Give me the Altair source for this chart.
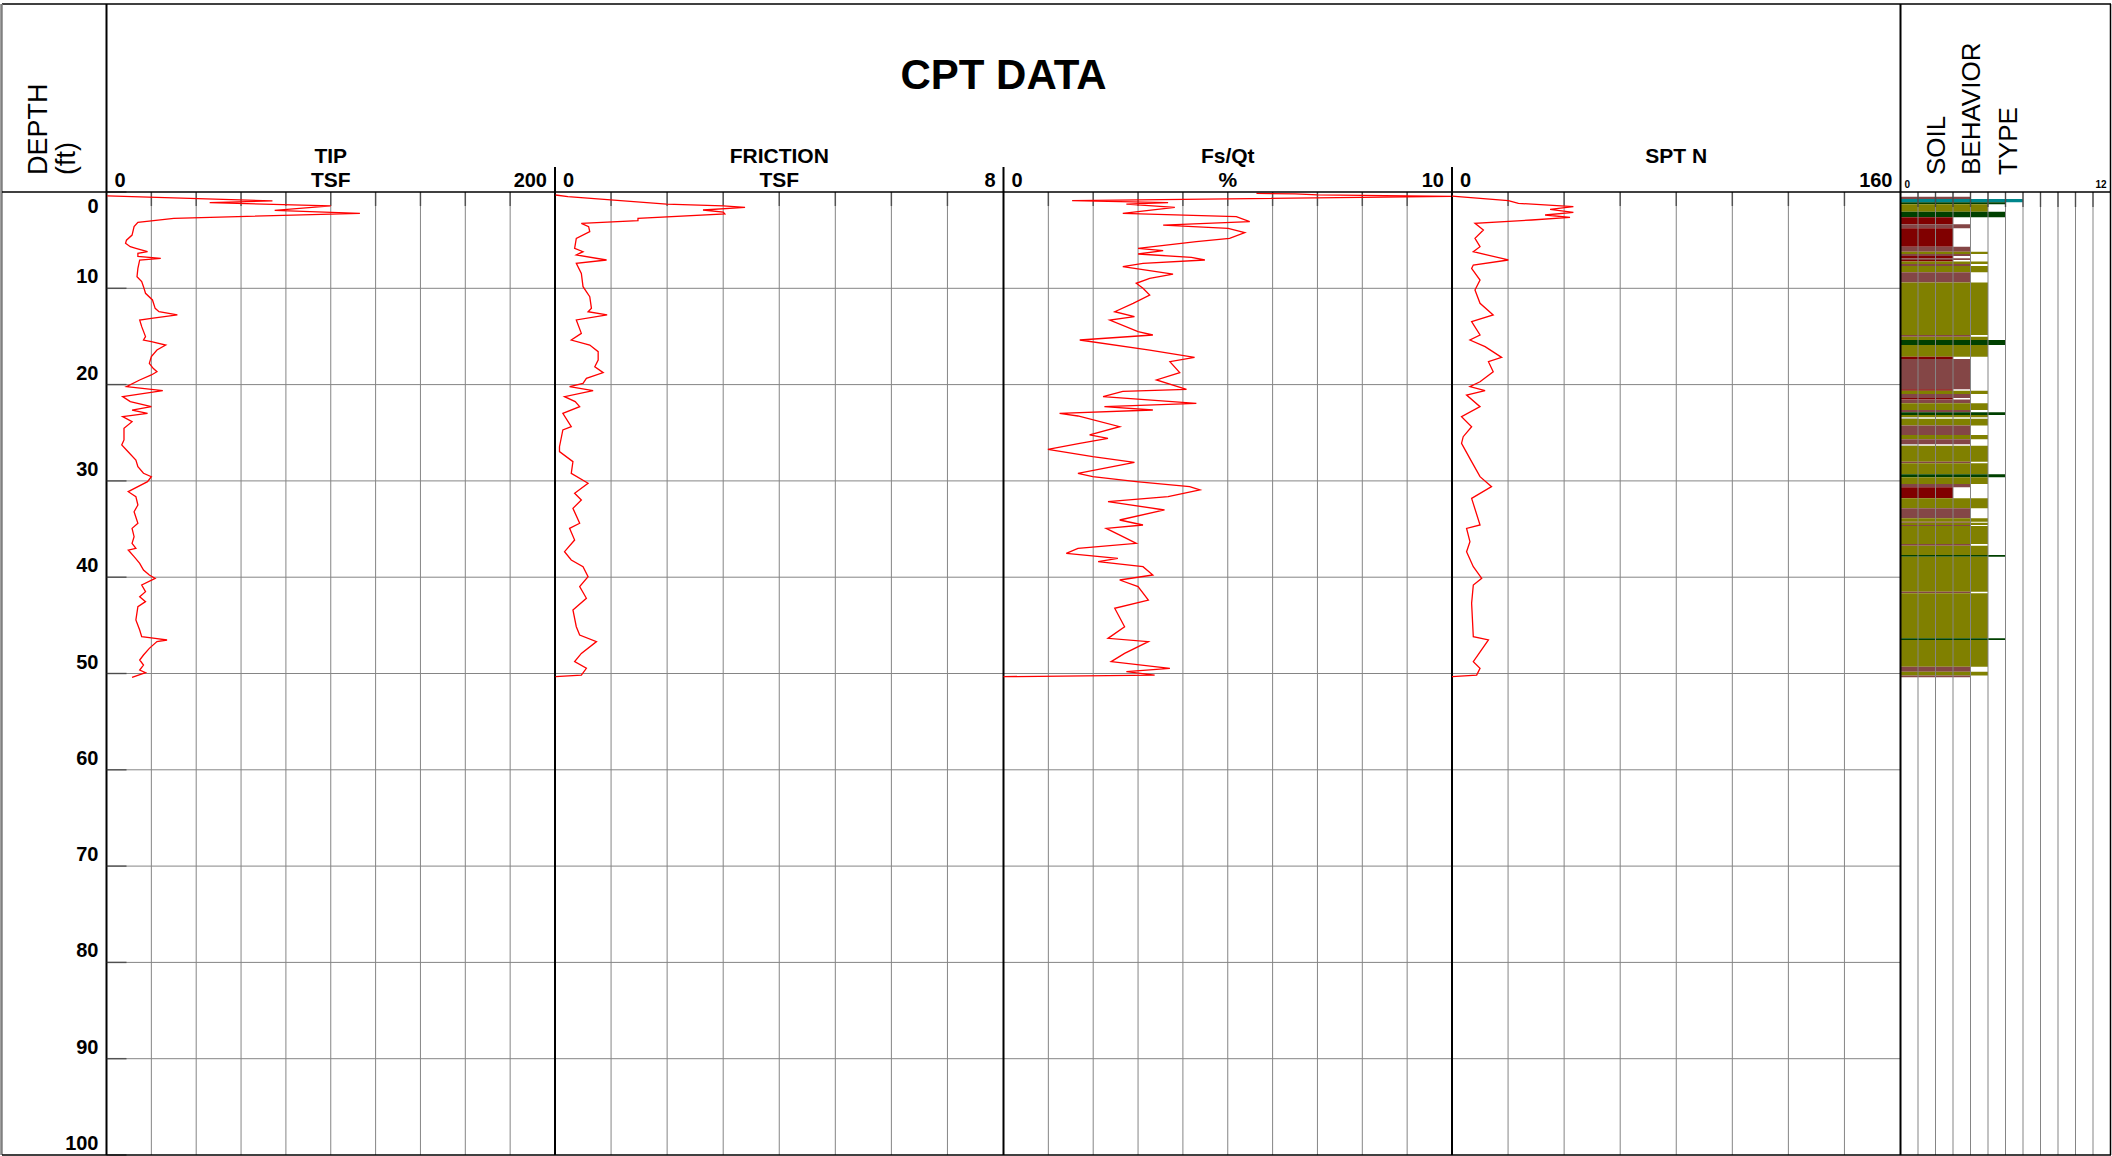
import altair as alt
import pandas as pd

FONT = "Liberation Sans"

# ---------------------------------------------------------------
# CPT sounding readings: (depth ft, reading)
# ---------------------------------------------------------------
TIP_TSF = [
    (0.40, 0.3), (0.93, 74), (1.11, 46), (1.45, 100), (1.90, 75), (2.22, 113), (2.73, 30), (3.15, 14),
    (3.60, 12.3), (4.47, 11.4), (5.00, 8.9), (5.33, 8.5), (5.68, 10.6), (5.85, 13.1), (6.20, 18.3),
    (6.37, 14.0), (6.70, 14.0), (6.89, 24.2), (7.06, 14.8), (7.93, 14.0), (8.79, 13.6), (9.31, 15.7),
    (9.83, 16.5), (10.52, 17.4), (11.21, 20.5), (12.08, 21.7), (12.43, 23.4), (12.77, 31.6), (13.12, 20.0),
    (13.29, 14.8), (13.98, 15.7), (15.02, 17.4), (15.37, 16.5), (15.54, 20.0), (15.89, 26.4), (16.41, 22.5),
    (17.10, 20.0), (17.79, 19.1), (18.31, 20.8), (18.66, 22.5), (19.00, 20.0), (19.52, 14.8), (20.21, 8.9),
    (20.63, 25.1), (21.25, 7.2), (21.77, 10.6), (22.29, 20.0), (22.64, 11.4), (22.98, 18.3), (23.33, 7.2),
    (23.85, 11.4), (24.54, 7.8), (25.75, 7.8), (26.27, 6.8), (26.79, 8.9), (27.83, 13.1), (28.52, 14.0),
    (29.21, 16.5), (29.56, 20.0), (30.08, 18.3), (31.12, 9.7), (31.64, 13.1), (32.50, 14.0), (33.20, 12.3),
    (34.40, 14.0), (34.93, 11.4), (35.79, 12.3), (36.48, 11.4), (37.00, 13.1), (37.18, 9.7), (37.87, 12.3),
    (38.56, 14.8), (39.25, 16.5), (39.77, 19.1), (40.12, 21.7), (40.81, 15.7), (41.50, 17.4), (42.02, 14.8),
    (42.54, 17.4), (43.06, 14.0), (44.44, 13.1), (45.48, 14.8), (46.18, 15.7), (46.35, 21.7), (46.52, 27.0),
    (46.69, 22.5), (47.39, 19.1), (48.08, 16.5), (48.60, 14.8), (49.12, 16.5), (49.64, 14.8), (49.91, 17.4),
    (50.40, 11.4),
]

FRICTION_TSF = [
    (0.31, 0.01), (0.48, 0.23), (1.25, 1.99), (1.45, 3.00), (1.59, 3.39), (1.87, 2.64), (2.08, 3.00),
    (2.28, 3.03), (2.73, 1.48), (2.98, 1.48), (3.25, 0.47), (3.60, 0.60), (4.12, 0.62), (4.81, 0.38),
    (5.85, 0.35), (6.20, 0.50), (6.54, 0.38), (7.06, 0.92), (7.41, 0.38), (8.45, 0.47), (9.83, 0.50),
    (10.87, 0.62), (12.08, 0.65), (12.43, 0.59), (12.77, 0.93), (13.29, 0.38), (14.68, 0.47), (15.37, 0.29),
    (15.89, 0.62), (16.58, 0.77), (17.45, 0.77), (18.14, 0.71), (18.76, 0.86), (19.35, 0.56), (19.87, 0.50),
    (20.21, 0.26), (20.63, 0.68), (21.25, 0.17), (21.77, 0.36), (22.29, 0.44), (22.98, 0.14), (24.37, 0.29),
    (24.71, 0.14), (26.45, 0.08), (26.96, 0.08), (28.00, 0.32), (29.21, 0.29), (30.25, 0.59), (31.29, 0.35),
    (31.98, 0.47), (32.85, 0.32), (34.40, 0.44), (34.93, 0.26), (36.14, 0.35), (37.35, 0.17), (38.21, 0.29),
    (38.91, 0.50), (39.94, 0.59), (40.98, 0.44), (42.19, 0.56), (43.40, 0.32), (45.14, 0.38), (46.00, 0.44),
    (46.69, 0.74), (47.91, 0.47), (48.77, 0.35), (49.46, 0.56), (50.16, 0.47), (50.33, 0.01),
]

RATIO_PCT = [
    (0.15, 5.64), (0.20, 6.50), (0.30, 7.00), (0.45, 10.0), (0.90, 1.53), (1.11, 3.67), (1.25, 2.74),
    (1.59, 3.82), (2.22, 2.66), (2.56, 5.19), (3.08, 5.49), (3.43, 3.56), (3.77, 5.01), (4.22, 5.38),
    (4.81, 5.04), (5.16, 4.30), (5.85, 3.00), (6.09, 3.56), (6.44, 3.00), (6.78, 4.19), (7.06, 4.49),
    (7.41, 3.11), (7.75, 2.66), (8.52, 3.78), (8.97, 3.26), (9.48, 2.96), (10.00, 3.11), (10.70, 3.26),
    (11.56, 2.89), (12.43, 2.48), (12.95, 2.92), (13.29, 2.37), (14.50, 3.00), (14.85, 3.33), (15.37, 1.70),
    (16.41, 3.26), (17.17, 4.26), (17.62, 3.71), (18.76, 3.93), (19.52, 3.41), (20.49, 4.08), (20.70, 2.66),
    (21.25, 2.22), (21.94, 4.30), (22.29, 2.25), (22.64, 3.33), (22.98, 1.25), (23.26, 1.66), (24.37, 2.59),
    (25.23, 1.92), (25.58, 2.33), (26.10, 1.70), (26.72, 0.99), (27.48, 1.99), (28.07, 2.92), (29.21, 1.66),
    (29.56, 1.99), (30.08, 2.96), (30.60, 4.15), (30.94, 4.38), (31.64, 3.67), (32.16, 2.33), (33.02, 3.59),
    (34.06, 2.59), (34.58, 3.11), (34.93, 2.29), (35.96, 2.74), (36.48, 2.96), (37.00, 1.66), (37.52, 1.40),
    (38.04, 2.55), (38.39, 2.11), (38.91, 3.11), (39.77, 3.33), (40.29, 2.59), (40.98, 3.00), (42.37, 3.23),
    (43.23, 2.48), (45.14, 2.70), (46.35, 2.33), (46.69, 3.23), (47.91, 2.70), (48.77, 2.40), (49.46, 3.71),
    (49.81, 2.74), (50.16, 3.37), (50.33, 0.00),
]

SPT_N = [
    (0.42, 0.0), (0.90, 20.1), (1.18, 23.7), (1.52, 43.3), (1.80, 35.0), (2.11, 43.3), (2.39, 33.2),
    (2.63, 42.1), (2.91, 28.4), (3.25, 8.2), (3.95, 11.2), (4.81, 8.2), (5.68, 10.0), (6.20, 7.6),
    (7.06, 20.1), (7.58, 7.6), (7.93, 7.0), (9.14, 10.0), (10.18, 8.2), (11.56, 10.0), (12.77, 14.7),
    (13.46, 7.0), (14.85, 10.0), (15.37, 6.4), (16.06, 11.8), (17.17, 17.7), (17.62, 13.0), (18.66, 14.7),
    (19.70, 10.0), (20.21, 6.4), (20.63, 11.8), (21.08, 5.2), (22.29, 10.0), (23.33, 3.4), (24.37, 7.0),
    (25.41, 4.0), (26.10, 3.4), (28.00, 7.0), (29.56, 10.0), (30.60, 14.1), (31.81, 7.0), (34.58, 10.0),
    (34.93, 5.2), (36.31, 6.4), (37.35, 5.2), (38.91, 7.6), (40.12, 10.6), (40.81, 7.6), (42.71, 7.0),
    (46.18, 7.6), (46.52, 13.0), (48.77, 7.6), (49.46, 10.0), (50.16, 8.8), (50.33, 0.0),
]

# Soil behavior type layers: (top ft, bottom ft, zone)
SBT_LAYERS = [
    (0.50, 0.73, 4), (0.73, 1.07, 7), (1.07, 1.28, 6), (1.28, 2.04, 5), (2.04, 2.63, 6), (2.63, 3.36, 3),
    (3.36, 3.77, 4), (3.77, 5.68, 3), (5.68, 6.20, 4), (6.20, 6.44, 5), (6.44, 6.65, 4), (6.65, 6.89, 3),
    (6.89, 7.06, 4), (7.06, 7.23, 3), (7.23, 7.48, 5), (7.48, 7.68, 4), (7.68, 8.34, 5), (8.34, 9.41, 4),
    (9.41, 14.85, 5), (14.85, 15.02, 4), (15.02, 15.37, 5), (15.37, 15.89, 6), (15.89, 17.10, 5),
    (17.10, 17.34, 3), (17.34, 20.49, 4), (20.49, 20.63, 3), (20.63, 20.98, 5), (20.98, 21.40, 4),
    (21.40, 21.55, 3), (21.55, 21.94, 4), (21.94, 22.64, 5), (22.64, 22.88, 4), (22.88, 23.16, 6),
    (23.16, 23.40, 5), (23.40, 23.55, 1), (23.55, 24.26, 5), (24.26, 25.23, 4), (25.23, 25.68, 5),
    (25.68, 26.20, 4), (26.20, 26.34, 1), (26.34, 28.00, 5), (28.00, 28.18, 4), (28.18, 29.32, 5),
    (29.32, 29.63, 6), (29.63, 30.32, 5), (30.32, 30.67, 4), (30.67, 31.81, 3), (31.81, 32.85, 5),
    (32.85, 33.89, 4), (33.89, 34.23, 5), (34.23, 34.35, 4), (34.35, 34.58, 5), (34.58, 34.68, 4),
    (34.68, 36.55, 5), (36.55, 36.73, 4), (36.73, 37.69, 5), (37.69, 37.87, 6), (37.87, 41.50, 5),
    (41.50, 41.67, 4), (41.67, 46.35, 5), (46.35, 46.52, 6), (46.52, 49.29, 5), (49.29, 49.81, 4),
    (49.81, 50.22, 5), (50.22, 50.40, 4),
]

SBT_ZONES = [1, 3, 4, 5, 6, 7]
SBT_COLORS = ["#c0c0c0", "#800000", "#844646", "#808000", "#004000", "#00868c"]

DEPTH_TICKS = [0, 10, 20, 30, 40, 50, 60, 70, 80, 90, 100]

# ---------------------------------------------------------------
# layout (plot-area pixels)
# ---------------------------------------------------------------
PLOT_W, PLOT_H = 2109, 963
HEADER_TOP = -188
GRID = "#858585"
TICK = "#333333"

Y_SCALE = alt.Scale(domain=[0, 100], reverse=True, nice=False, zero=False)
ONE = pd.DataFrame({"k": [0]})


def vrule(x_enc, top, color="black", width=2.0):
    return alt.Chart(ONE).mark_rule(color=color, strokeWidth=width).encode(
        x=x_enc, y=alt.value(top), y2=alt.value("height"))


def header_text(x_enc, text, y, size=21, weight="bold", align="center", angle=0, dx=0):
    mark = dict(text=text, font=FONT, fontSize=size, fontWeight=weight,
                align=align, baseline="alphabetic", color="black")
    if angle:
        mark["angle"] = angle
    if dx:
        mark["dx"] = dx
    return alt.Chart(ONE).mark_text(**mark).encode(x=x_enc, y=alt.value(y))


def vertical_grid(ticks, xs, tick_len):
    """Gray grid rules at every scale step plus short dark ticks under the header."""
    tdf = pd.DataFrame({"tick": ticks})
    grid = alt.Chart(tdf).mark_rule(color=GRID, strokeWidth=1).encode(
        x=alt.X("tick:Q", scale=xs, axis=None),
        y=alt.YDatum(0, scale=Y_SCALE, axis=None), y2=alt.Y2Datum(100))
    marks = alt.Chart(tdf).mark_tick(
        orient="vertical", size=tick_len, thickness=1.5, color=TICK, yOffset=tick_len / 2).encode(
        x=alt.X("tick:Q", scale=xs, axis=None),
        y=alt.YDatum(0, scale=Y_SCALE, axis=None))
    return grid, marks


def track(readings, vmax, step, xrange, header, border_top=-25, extra=()):
    ticks = list(range(0, vmax + 1, step))
    xs = alt.Scale(domain=[0, vmax], range=xrange, nice=False, zero=False)
    df = pd.DataFrame(readings, columns=["depth", "value"])

    vgrid, top_ticks = vertical_grid(ticks[1:-1], xs, 14)

    hgrid = alt.Chart(pd.DataFrame({"depth": DEPTH_TICKS[1:-1]})).mark_rule(
        color=GRID, strokeWidth=1).encode(
        y=alt.Y("depth:Q", scale=Y_SCALE, axis=None),
        x=alt.XDatum(0, scale=xs, axis=None), x2=alt.X2Datum(vmax))

    border = vrule(alt.XDatum(0, axis=None), border_top)

    titles = [header_text(alt.XDatum(vmax / 2, axis=None), t, -29 + 24 * i)
              for i, t in enumerate(header)]
    end_labels = [
        header_text(alt.XDatum(0, axis=None), "0", -5, size=20, align="left", dx=8),
        header_text(alt.XDatum(vmax, axis=None), str(vmax), -5, size=20, align="right", dx=-8),
    ]

    curve = alt.Chart(df).mark_line(color="#ff0000", strokeWidth=1.3).encode(
        x=alt.X("value:Q", scale=xs, axis=None),
        y=alt.Y("depth:Q", scale=Y_SCALE, axis=None),
        order=alt.Order("depth:Q"))

    return alt.layer(vgrid, hgrid, top_ticks, border, *extra, *titles, *end_labels, curve)


# ---- depth scale labels and inward ticks (drawn against the TIP track) ----
depth_df = pd.DataFrame({"depth": DEPTH_TICKS})
depth_text = dict(font=FONT, fontSize=20, fontWeight="bold", color="black", align="right", dx=-8)
depth_ticks = alt.Chart(depth_df).mark_tick(
    orient="horizontal", size=20, thickness=1.5, color=TICK, xOffset=10).encode(
    y=alt.Y("depth:Q", scale=Y_SCALE, axis=None), x=alt.XDatum(0, axis=None))
depth_labels = alt.Chart(pd.DataFrame({"depth": DEPTH_TICKS[1:]})).mark_text(
    baseline="alphabetic", dy=-5, **depth_text).encode(
    y=alt.Y("depth:Q", scale=Y_SCALE, axis=None), x=alt.XDatum(0, axis=None),
    text=alt.Text("depth:Q", format="d"))
depth_label0 = alt.Chart(pd.DataFrame({"depth": DEPTH_TICKS[:1]})).mark_text(
    baseline="top", dy=5, **depth_text).encode(
    y=alt.Y("depth:Q", scale=Y_SCALE, axis=None), x=alt.XDatum(0, axis=None),
    text=alt.Text("depth:Q", format="d"))

tip = track(TIP_TSF, 200, 20, [104.5, 553], ["TIP", "TSF"],
            border_top=HEADER_TOP, extra=(depth_ticks, depth_labels, depth_label0))

cpt_title = header_text(alt.XDatum(8, axis=None), "CPT DATA", -103, size=42)
friction = track(FRICTION_TSF, 8, 1, [553, 1001.5], ["FRICTION", "TSF"], extra=(cpt_title,))
ratio = track(RATIO_PCT, 10, 1, [1001.5, 1450], ["Fs/Qt", "%"])
spt = track(SPT_N, 160, 20, [1450, 1898.5], ["SPT N"])

# ---- soil behavior type column ----
sbt_scale = alt.Scale(domain=[0, 12], range=[1898.5, 2108.5], nice=False, zero=False)
sbt_df = pd.DataFrame(SBT_LAYERS, columns=["top", "bottom", "zone"])
sbt_bars = alt.Chart(sbt_df).mark_rect().encode(
    x=alt.X("zone:Q", scale=sbt_scale, axis=None),
    x2=alt.X2Datum(0),
    y=alt.Y("top:Q", scale=Y_SCALE, axis=None),
    y2="bottom:Q",
    color=alt.Color("zone:N", scale=alt.Scale(domain=SBT_ZONES, range=SBT_COLORS), legend=None),
)
sbt_grid, sbt_ticks = vertical_grid(list(range(1, 12)), sbt_scale, 15)
sbt_left = vrule(alt.XDatum(0, axis=None), HEADER_TOP)
sbt_right = vrule(alt.XDatum(12, axis=None), HEADER_TOP, width=1.5)
sbt_titles = [
    header_text(alt.value(x), t, -17, size=26, weight="normal", align="left", angle=270)
    for x, t in [(1943, "SOIL"), (1978, "BEHAVIOR"), (2014.5, "TYPE")]
]
sbt_ends = [
    header_text(alt.XDatum(0, axis=None), "0", -4, size=10, align="left", dx=4),
    header_text(alt.XDatum(12, axis=None), "12", -4, size=10, align="right", dx=-4),
]
sbt = alt.layer(sbt_bars, sbt_grid, sbt_ticks, sbt_left, sbt_right, *sbt_titles, *sbt_ends)

# ---- frame and depth header ----
frame_top = alt.Chart(ONE).mark_rule(color="black", strokeWidth=1.5).encode(
    x=alt.value(0), x2=alt.value("width"), y=alt.value(HEADER_TOP))
frame_header = alt.Chart(ONE).mark_rule(color="black", strokeWidth=1.5).encode(
    x=alt.value(0), x2=alt.value("width"), y=alt.value(0))
frame_bottom = alt.Chart(ONE).mark_rule(color="black", strokeWidth=1.5).encode(
    x=alt.value(0), x2=alt.value("width"), y=alt.value("height"))
frame_left = alt.Chart(ONE).mark_rule(color="#808080", strokeWidth=2.5).encode(
    x=alt.value(-0.5), y=alt.value(HEADER_TOP), y2=alt.value("height"))
depth_title = [
    header_text(alt.value(45), "DEPTH", -17, size=27, weight="normal", align="left", angle=270),
    header_text(alt.value(73), "(ft)", -17, size=27, weight="normal", align="left", angle=270),
]

chart = (
    alt.layer(frame_top, frame_left, *depth_title,
              tip, friction, ratio, spt, sbt, frame_header, frame_bottom)
    .resolve_scale(x="independent")
    .properties(
        width=PLOT_W, height=PLOT_H,
        padding={"left": 2, "top": 192, "right": 1, "bottom": 1},
        autosize=alt.AutoSizeParams(type="none"),
        background="white",
    )
    .configure_view(stroke=None)
)

chart.save("out.html", embed_options={"renderer": "svg", "actions": False})
